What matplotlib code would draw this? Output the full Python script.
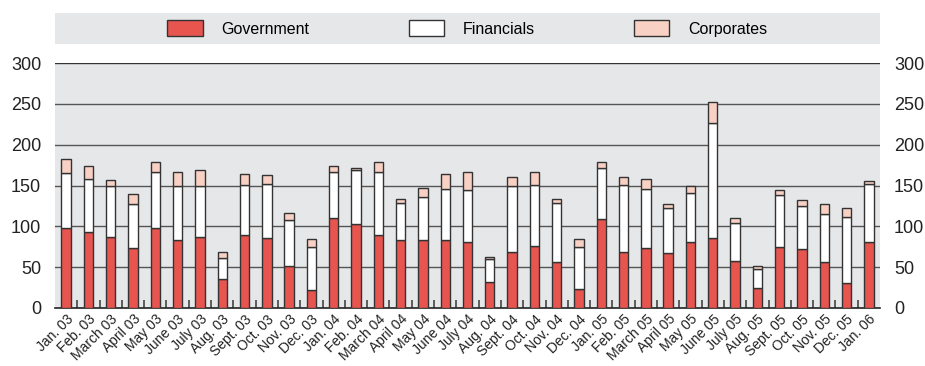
import matplotlib.pyplot as plt
from matplotlib.patches import Patch
import numpy as np

plt.rcParams['font.family'] = ['Liberation Sans Narrow', 'Liberation Sans', 'DejaVu Sans']

months = ["Jan. 03", "Feb. 03", "March 03", "April 03", "May 03", "June 03", "July 03",
          "Aug. 03", "Sept. 03", "Oct. 03", "Nov. 03", "Dec. 03",
          "Jan. 04", "Feb. 04", "March 04", "April 04", "May 04", "June 04", "July 04",
          "Aug. 04", "Sept. 04", "Oct. 04", "Nov. 04", "Dec. 04",
          "Jan. 05", "Feb. 05", "March 05", "April 05", "May 05", "June 05", "July 05",
          "Aug. 05", "Sept. 05", "Oct. 05", "Nov. 05", "Dec. 05", "Jan. 06"]

government = [98, 93, 87, 73, 98, 83, 87, 36, 89, 86, 51, 22,
              110, 103, 89, 83, 83, 83, 81, 32, 69, 76, 56, 23,
              109, 69, 74, 67, 81, 86, 58, 24, 75, 72, 56, 31, 81]
financials = [67, 65, 63, 54, 69, 66, 62, 25, 62, 66, 57, 53,
              56, 66, 78, 46, 53, 63, 64, 28, 81, 75, 73, 52,
              63, 82, 72, 55, 60, 141, 46, 24, 63, 53, 59, 80, 71]
corporates = [17, 16, 7, 13, 12, 17, 20, 8, 13, 11, 8, 10,
              8, 3, 12, 4, 11, 18, 21, 3, 10, 16, 5, 10,
              7, 9, 12, 5, 8, 25, 6, 4, 6, 7, 12, 11, 3]

gov_color = "#e8554f"
fin_color = "#ffffff"
corp_color = "#f9d0c4"
edge = "#333333"
bg = "#e6e7e8"

fig = plt.figure(figsize=(9.25, 3.66), dpi=100)
ax = fig.add_axes([55 / 925, 1 - 308 / 366, 825 / 925, 245 / 366])
ax.set_facecolor(bg)

x = np.arange(len(months))
w = 0.42
gov = np.array(government)
fin = np.array(financials)
corp = np.array(corporates)
ax.bar(x, gov, w, color=gov_color, edgecolor=edge, linewidth=1, zorder=3)
ax.bar(x, fin, w, bottom=gov, color=fin_color, edgecolor=edge, linewidth=1, zorder=3)
ax.bar(x, corp, w, bottom=gov + fin, color=corp_color, edgecolor=edge, linewidth=1, zorder=3)

ax.set_xlim(-0.5, len(months) - 0.5)
ax.set_ylim(0, 300)
yt = np.arange(0, 301, 50)
ax.set_yticks(yt)
for v in yt[1:]:
    ax.axhline(v, color="#555555" if v < 300 else "#333333", linewidth=1, zorder=1)

for s in ["top", "right", "left"]:
    ax.spines[s].set_visible(False)
ax.spines["bottom"].set_color("#222222")
ax.spines["bottom"].set_linewidth(1.2)

ax.set_xticks(x)
ax.set_xticklabels(months, rotation=45, ha="right", rotation_mode="anchor",
                   fontsize=10, color="#222222")
ax.tick_params(axis="x", length=0, pad=3)
ax.set_xticks(x[:-1] + 0.5, minor=True)
ax.tick_params(axis="x", which="minor", direction="in", length=6, color="#444444", width=1.2)

ax.tick_params(axis="y", length=0, labelsize=13, labelcolor="#222222",
               left=False, right=False, labelleft=True, labelright=True, pad=10)
for t in ax.yaxis.get_major_ticks():
    t.label1.set_horizontalalignment("right")
    t.label2.set_horizontalalignment("left")

# legend band
lax = fig.add_axes([55 / 925, 1 - 44 / 366, 825 / 925, 31 / 366])
lax.set_facecolor(bg)
lax.set_xticks([])
lax.set_yticks([])
for s in lax.spines.values():
    s.set_visible(False)
handles = [Patch(facecolor=gov_color, edgecolor=edge, label="Government"),
           Patch(facecolor=fin_color, edgecolor=edge, label="Financials"),
           Patch(facecolor=corp_color, edgecolor=edge, label="Corporates")]
lax.legend(handles=handles, loc="center", ncol=3, frameon=False, fontsize=11.5,
           handlelength=2.2, handleheight=1.1, columnspacing=6.2, handletextpad=1.2)

fig.savefig("out.png", dpi=100)
